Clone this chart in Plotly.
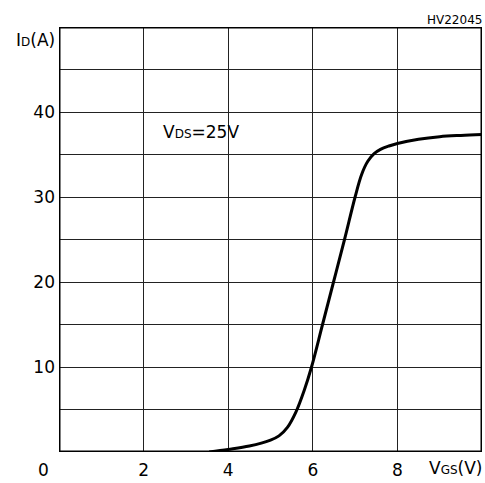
import plotly.graph_objects as go

vgs = [3.55, 4.0, 4.5, 5.0, 5.2, 5.4, 5.6, 5.8, 5.97, 6.23, 6.49, 6.75, 7.0, 7.15, 7.3, 7.45, 7.6, 7.8, 8.0, 8.5, 9.0, 9.5, 10.0]
id_a = [0.0, 0.3, 0.7, 1.4, 1.9, 2.9, 4.7, 7.3, 10.0, 15.0, 20.0, 25.0, 30.0, 32.6, 34.2, 35.1, 35.6, 36.0, 36.3, 36.8, 37.1, 37.25, 37.35]

x_ticks = [2, 4, 6, 8]
y_ticks = [10, 20, 30, 40]

FONT = "DejaVu Sans"

fig = go.Figure()
fig.add_trace(go.Scatter(x=vgs, y=id_a, mode="lines",
                         line=dict(color="black", width=3, shape="spline", smoothing=1.0),
                         hoverinfo="skip", showlegend=False))

fig.update_layout(
    width=485, height=483,
    margin=dict(l=59, r=3, t=27, b=31),
    paper_bgcolor="white", plot_bgcolor="white",
    font=dict(family=FONT, size=17, color="black"),
    showlegend=False,
    xaxis=dict(range=[0, 10], dtick=1, showgrid=True, gridcolor="#222", gridwidth=1,
               tickmode="array", tickvals=x_ticks, ticktext=[str(v) for v in x_ticks],
               ticks="", zeroline=False, showline=False, ticklabelstandoff=6,
               tickfont=dict(family=FONT, size=17)),
    yaxis=dict(range=[0, 50], showgrid=True, gridcolor="#222", gridwidth=1,
               tickmode="array", tickvals=[5, 10, 15, 20, 25, 30, 35, 40, 45],
               ticktext=["", "10", "", "20", "", "30", "", "40", ""],
               ticks="", zeroline=False, showline=False, ticklabelstandoff=3,
               tickfont=dict(family=FONT, size=17)),
)

fig.add_shape(type="rect", xref="x", yref="y", x0=0, x1=10, y0=0, y1=50,
              line=dict(color="black", width=3), layer="above")

fig.add_annotation(xref="paper", yref="paper", x=-0.01, y=0, xanchor="right", yanchor="top",
                   text="0", showarrow=False, yshift=-6, xshift=-4, font=dict(size=17))
fig.add_annotation(xref="paper", yref="paper", x=1.0, y=0, xanchor="right", yanchor="top",
                   text="V<span style='font-size:12px'>GS</span>(V)", showarrow=False, yshift=-4,
                   xshift=2, font=dict(size=17))
fig.add_annotation(xref="paper", yref="paper", x=-0.01, y=1.0, xanchor="right", yanchor="top",
                   text="I<span style='font-size:12px'>D</span>(A)", showarrow=False, yshift=-1,
                   xshift=2, font=dict(size=17))
fig.add_annotation(xref="paper", yref="paper", x=1.0, y=1.0, xanchor="right", yanchor="bottom",
                   text="HV22045", showarrow=False, yshift=-2, xshift=2, font=dict(size=12))
fig.add_annotation(xref="x", yref="y", x=2.4, y=37.6, xanchor="left", yanchor="middle",
                   text="V<span style='font-size:12px'>DS</span>=25V", showarrow=False,
                   font=dict(size=17))

fig.write_html("out.html")
